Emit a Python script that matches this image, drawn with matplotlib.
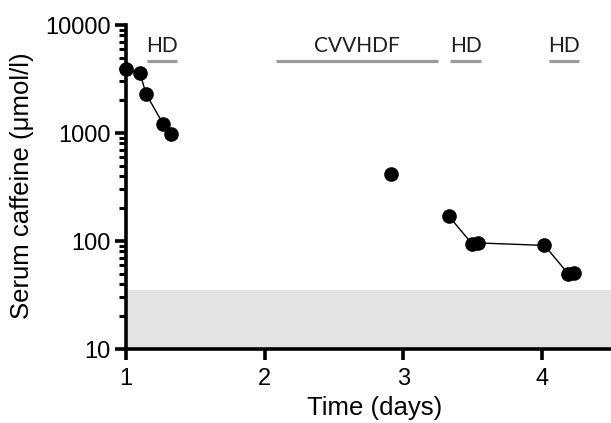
import matplotlib.pyplot as plt
import matplotlib.ticker as mticker
import numpy as np

# caffeine measurements, grouped by connected runs
day_a = [1.0, 1.10, 1.145, 1.27, 1.325]
caf_a = [3900, 3600, 2300, 1200, 980]
day_b = [2.91]
caf_b = [420]
day_c = [3.33, 3.50, 3.54, 4.02, 4.19, 4.23]
caf_c = [170, 93, 96, 91, 50, 51]

# treatment periods (start, end, label)
tx_start = [1.15, 2.085, 3.34, 4.05]
tx_end = [1.365, 3.25, 3.565, 4.27]
tx_label = ['HD', 'CVVHDF', 'HD', 'HD']

ref_low, ref_high = 10, 35

plt.rcParams['font.family'] = ['Liberation Sans', 'DejaVu Sans']

fig = plt.figure(figsize=(6.11, 4.23), dpi=100)
ax = fig.add_axes([126 / 611, 1 - 349 / 423, 485 / 611, 324 / 423])

ax.axhspan(ref_low, ref_high, color='#e3e3e3', lw=0, zorder=0)

for d, c in [(day_a, caf_a), (day_b, caf_b), (day_c, caf_c)]:
    ax.plot(d, c, color='black', lw=1.0, marker='o', ms=9.5, clip_on=False, zorder=5)

bar_y = 4650
for s, e, lab in zip(tx_start, tx_end, tx_label):
    ax.plot([s, e], [bar_y, bar_y], color='#9a9a9a', lw=2.3, solid_capstyle='butt', clip_on=False)
    ax.text((s + e) / 2, bar_y * 1.1, lab, ha='center', va='bottom', fontsize=15,
            family=['Lato', 'DejaVu Sans'], color='#1e1e1e')

ax.set_yscale('log')
ax.set_ylim(10, 10000)
ax.set_xlim(1, 4.5)
ax.set_xticks([1, 2, 3, 4])
ax.yaxis.set_major_formatter(mticker.FuncFormatter(lambda v, p: f'{int(v)}'))
ax.yaxis.set_minor_locator(mticker.LogLocator(base=10, subs=np.arange(2, 10)))
ax.yaxis.set_minor_formatter(mticker.NullFormatter())

for side in ['top', 'right']:
    ax.spines[side].set_visible(False)
for side in ['left', 'bottom']:
    ax.spines[side].set_linewidth(2.6)

ax.tick_params(which='major', direction='out', length=8, width=2.6, labelsize=17)
ax.tick_params(axis='x', which='major', pad=6)
ax.tick_params(axis='y', which='major', pad=3)
ax.tick_params(which='minor', direction='out', length=5, width=2.2)

ax.set_xlabel('Time (days)', fontsize=18.5)
ax.set_ylabel('Serum caffeine (\u03bcmol/l)', fontsize=18.5)
ax.xaxis.set_label_coords(0.512, -0.145)
ax.yaxis.set_label_coords(-0.19, 0.505)

fig.savefig('out.png', dpi=100)
